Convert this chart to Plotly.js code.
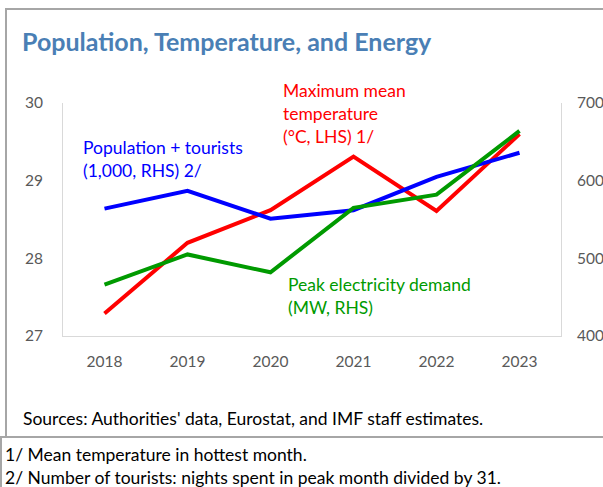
<!DOCTYPE html>
<html>
<head>
<meta charset="utf-8">
<script src="https://cdn.plot.ly/plotly-3.0.1.min.js"></script>
<style>html,body{margin:0;padding:0;background:#fff;}#chart{width:603px;height:487px;}</style>
</head>
<body>
<div id="chart"></div>
<script>
// Data
const years = ["2018", "2019", "2020", "2021", "2022", "2023"];
const maxMeanTemp = [27.29, 28.20, 28.62, 29.31, 28.61, 29.60];      // °C, LHS
const populationTourists = [564, 587, 551, 562, 605, 636];           // 1,000, RHS
const peakElectricity = [466, 505, 482, 565, 582, 664];              // MW, RHS
const leftTicks = [27, 28, 29, 30];
const rightTicks = [400, 500, 600, 700];

const W = 603, H = 487;
const M = {l: 63, r: 42, t: 103, b: 151};
const PW = W - M.l - M.r, PH = H - M.t - M.b;
const px = x => (x - M.l) / PW;
const py = y => (H - M.b - y) / PH;

const FONT = "Lato, 'Open Sans', sans-serif";

const traces = [
  {x: years, y: populationTourists, yaxis: 'y2', type: 'scatter', mode: 'lines',
   line: {color: '#0000ff', width: 4}, name: 'Population + tourists'},
  {x: years, y: peakElectricity, yaxis: 'y2', type: 'scatter', mode: 'lines',
   line: {color: '#009a00', width: 4}, name: 'Peak electricity demand'},
  {x: years, y: maxMeanTemp, yaxis: 'y', type: 'scatter', mode: 'lines',
   line: {color: '#ff0000', width: 4}, name: 'Maximum mean temperature'}
];

const ann = (text, x, y, color, size) => ({
  text: text, xref: 'paper', yref: 'paper', x: px(x), y: py(y),
  xanchor: 'left', yanchor: 'middle', align: 'left', showarrow: false,
  font: {family: FONT, size: size || 17.5, color: color}
});

const layout = {
  width: W, height: H,
  margin: M,
  paper_bgcolor: '#ffffff', plot_bgcolor: '#ffffff',
  showlegend: false,
  font: {family: FONT, size: 15, color: '#595959'},
  title: {
    text: '<b>Population, Temperature, and Energy</b>',
    xref: 'container', yref: 'container',
    x: 22 / W, xanchor: 'left', y: 1 - 42 / H, yanchor: 'middle',
    font: {family: FONT, size: 25, color: '#4a7fb5'}
  },
  xaxis: {
    type: 'category', range: [-0.5, 5.5], showgrid: false, zeroline: false,
    showline: true, linecolor: '#d9d9d9', linewidth: 1,
    ticks: '', ticklabelstandoff: 11, tickfont: {size: 15.5, color: '#595959'}
  },
  yaxis: {
    range: [27, 30], tickvals: leftTicks, showgrid: false, zeroline: false,
    showline: true, linecolor: '#d9d9d9', linewidth: 1,
    ticks: '', ticklabelstandoff: 16, tickfont: {size: 15.5, color: '#595959'}
  },
  yaxis2: {
    range: [400, 700], tickvals: rightTicks, overlaying: 'y', side: 'right',
    showgrid: false, zeroline: false,
    showline: true, linecolor: '#d9d9d9', linewidth: 1,
    ticks: '', ticklabelstandoff: 12, tickfont: {size: 15.5, color: '#595959'}
  },
  annotations: [
    ann('Population + tourists<br>(1,000, RHS) 2/', 81, 159, '#0000ff'),
    ann('Maximum mean<br>temperature<br>(°C, LHS) 1/', 281, 113, '#ff0000'),
    ann('Peak electricity demand<br>(MW, RHS)', 286, 296, '#009a00'),
    ann('Sources: Authorities\' data, Eurostat, and IMF staff estimates.', 21, 418, '#000000', 17.5),
    ann('1/ Mean temperature in hottest month.<br>2/ Number of tourists: nights spent in peak month divided by 31.', 3, 466, '#000000', 17.5)
  ],
  shapes: [
    {type: 'line', xref: 'paper', yref: 'paper', x0: px(5), x1: px(603), y0: py(9), y1: py(9), line: {color: '#a6a6a6', width: 2}},
    {type: 'line', xref: 'paper', yref: 'paper', x0: px(6), x1: px(6), y0: py(9), y1: py(437), line: {color: '#a6a6a6', width: 2}},
    {type: 'line', xref: 'paper', yref: 'paper', x0: px(0), x1: px(603), y0: py(437), y1: py(437), line: {color: '#a6a6a6', width: 2}},
    {type: 'line', xref: 'paper', yref: 'paper', x0: px(1), x1: px(1), y0: py(437), y1: py(487), line: {color: '#a6a6a6', width: 2}}
  ]
};

Plotly.newPlot('chart', traces, layout, {displayModeBar: false, staticPlot: true});
</script>
</body>
</html>
